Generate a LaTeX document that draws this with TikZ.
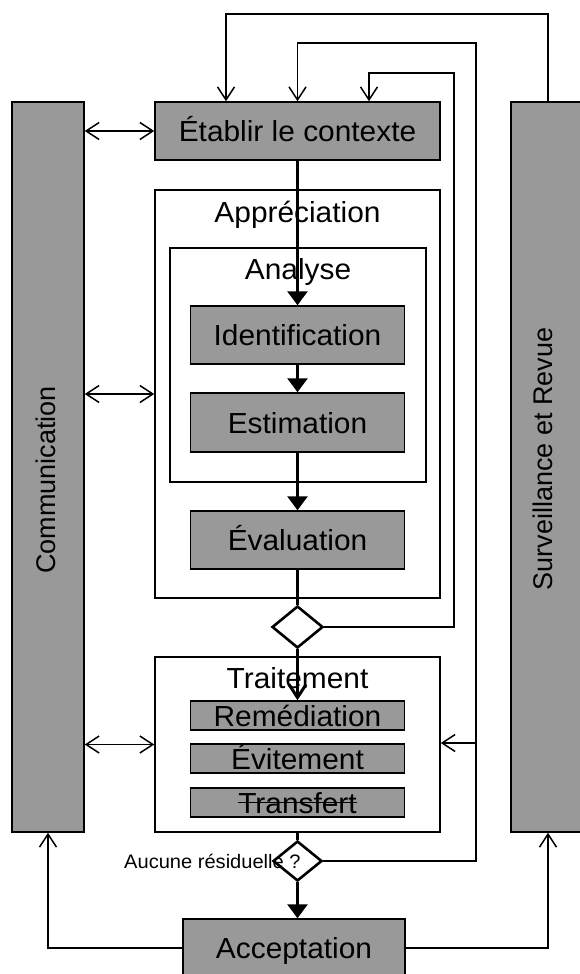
\documentclass[tikz,border=0pt]{standalone}
\usepackage{graphicx}
\usepackage{fontspec}
\setmainfont{Liberation Sans}[FakeStretch=1.03]
\newfontfamily\rotfont{Liberation Sans}
\usetikzlibrary{arrows.meta,shapes.geometric}
\definecolor{boxgrey}{RGB}{153,153,153}
\begin{document}
\begin{tikzpicture}[x=1pt,y=-1pt,
  greybox/.style={draw=black, line width=1.5pt, fill=boxgrey, inner sep=0pt,
    text height=21pt, text depth=0pt, font=\fontsize{29pt}{34pt}\selectfont},
  frame/.style={draw=black, line width=1.5pt, fill=white, inner sep=0pt},
  title/.style={anchor=base, inner sep=0pt, font=\fontsize{29pt}{34pt}\selectfont},
  decision/.style={diamond, draw=black, line width=2.6pt, fill=white, inner sep=0pt},
  flow/.style={line width=3pt},
  link/.style={line width=1.5pt},
  openhead/.style={-{Straight Barb[length=13pt,width=17pt]}},
  bothheads/.style={{Straight Barb[length=13pt,width=17pt]}-{Straight Barb[length=13pt,width=17pt]}},
  filledhead/.style={-{Triangle[length=14pt,width=20pt]}},
  vlabel/.style={rotate=90, inner sep=0pt, font=\rotfont\fontsize{27pt}{32pt}\selectfont},
]
\useasboundingbox (0,0) rectangle (579,974);

% side bars
\node[greybox, minimum width=72pt, minimum height=730pt] (comm) at (48,467) {};
\node[vlabel] (commT) at (46,480) {Communication};
\node[greybox, minimum width=74pt, minimum height=730pt] (surv) at (548,467) {};
\node[vlabel] (survT) at (543,459) {Surveillance et Revue};

% top box
\node[greybox, minimum width=285pt, minimum height=58pt] (etab) at (297.5,131) {Établir le contexte};

% Appréciation frame
\node[frame, minimum width=285pt, minimum height=408pt] (appr) at (297.5,394) {};
\node[title] (apprT) at (297.5,222) {Appréciation};
\node[frame, minimum width=256pt, minimum height=234pt] (analyse) at (298,365) {};
\node[title] (analyseT) at (298,279) {Analyse};
\node[greybox, minimum width=214pt, minimum height=58pt] (ident) at (297.5,335) {Identification};
\node[greybox, minimum width=214pt, minimum height=59pt] (estim) at (297.5,422.5) {Estimation};
\node[greybox, minimum width=214pt, minimum height=58pt] (eval) at (297.5,540) {Évaluation};

% decision 1
\node[decision, minimum width=51pt, minimum height=42pt] (d1) at (297.5,627) {};

% Traitement frame
\node[frame, minimum width=285pt, minimum height=175pt] (trait) at (297.5,744.5) {};
\node[title] (traitT) at (297.5,688) {Traitement};
\node[greybox, minimum width=214pt, minimum height=29pt] (rem) at (297.5,715.5) {Remédiation};
\node[greybox, minimum width=214pt, minimum height=29pt] (evit) at (297.5,758.5) {Évitement};
\node[greybox, minimum width=214pt, minimum height=29pt] (trans) at (297.5,802.5) {};
\node[inner sep=0pt, text height=21pt, text depth=0pt, font=\fontsize{29pt}{34pt}\selectfont] (transT) at (trans.center) {Transfert};
\draw[line width=1.4pt] (transT.west) -- (transT.east);

% decision 2
\node[decision, minimum width=49pt, minimum height=40pt] (d2) at (297.5,861) {};
\node[anchor=west, inner sep=0pt, text height=14pt, text depth=0pt, font=\fontsize{19.5pt}{23pt}\selectfont] (lbl) at (124,861) {Aucune résiduelle ?};

% Acceptation
\node[greybox, minimum width=222pt, minimum height=58pt] (accept) at (294,948) {Acceptation};

% main flow
\draw[flow, filledhead] (etab.south) -- (ident.north);
\draw[flow, filledhead] (ident.south) -- (estim.north);
\draw[flow, filledhead] (estim.south) -- (eval.north);
\draw[flow] (eval.south) -- (d1.north);
\draw[flow, openhead] (d1.south) -- (rem.north);
\draw[flow] (trait.south) -- (d2.north);
\draw[flow, filledhead] (d2.south) -- (d2.south |- accept.north);

% communication links
\draw[link, bothheads] (comm.east |- etab.west) -- (etab.west);
\draw[link, bothheads] (comm.east |- appr.west) -- (appr.west);
\draw[link, bothheads] (comm.east |- trait.west) -- (trait.west);

% feedback loops
\coordinate (k1) at (226,14);
\draw[link, openhead] (surv.north) |- (k1) -- (k1 |- etab.north);
\coordinate (k2a) at (476,43);
\coordinate (k2b) at (297.5,43);
\draw[link, openhead] (d2.east) -| (k2a) -- (k2b) -- (k2b |- etab.north);
\coordinate (k2c) at (476,743);
\draw[link, openhead] (k2c) -- (k2c -| trait.east);
\coordinate (k3a) at (454,73);
\coordinate (k3b) at (369,73);
\draw[link, openhead] (d1.east) -| (k3a) -- (k3b) -- (k3b |- etab.north);

% acceptation links
\draw[link, openhead] (accept.west) -| (comm.south);
\draw[link, openhead] (accept.east) -| (surv.south);
\end{tikzpicture}
\end{document}
